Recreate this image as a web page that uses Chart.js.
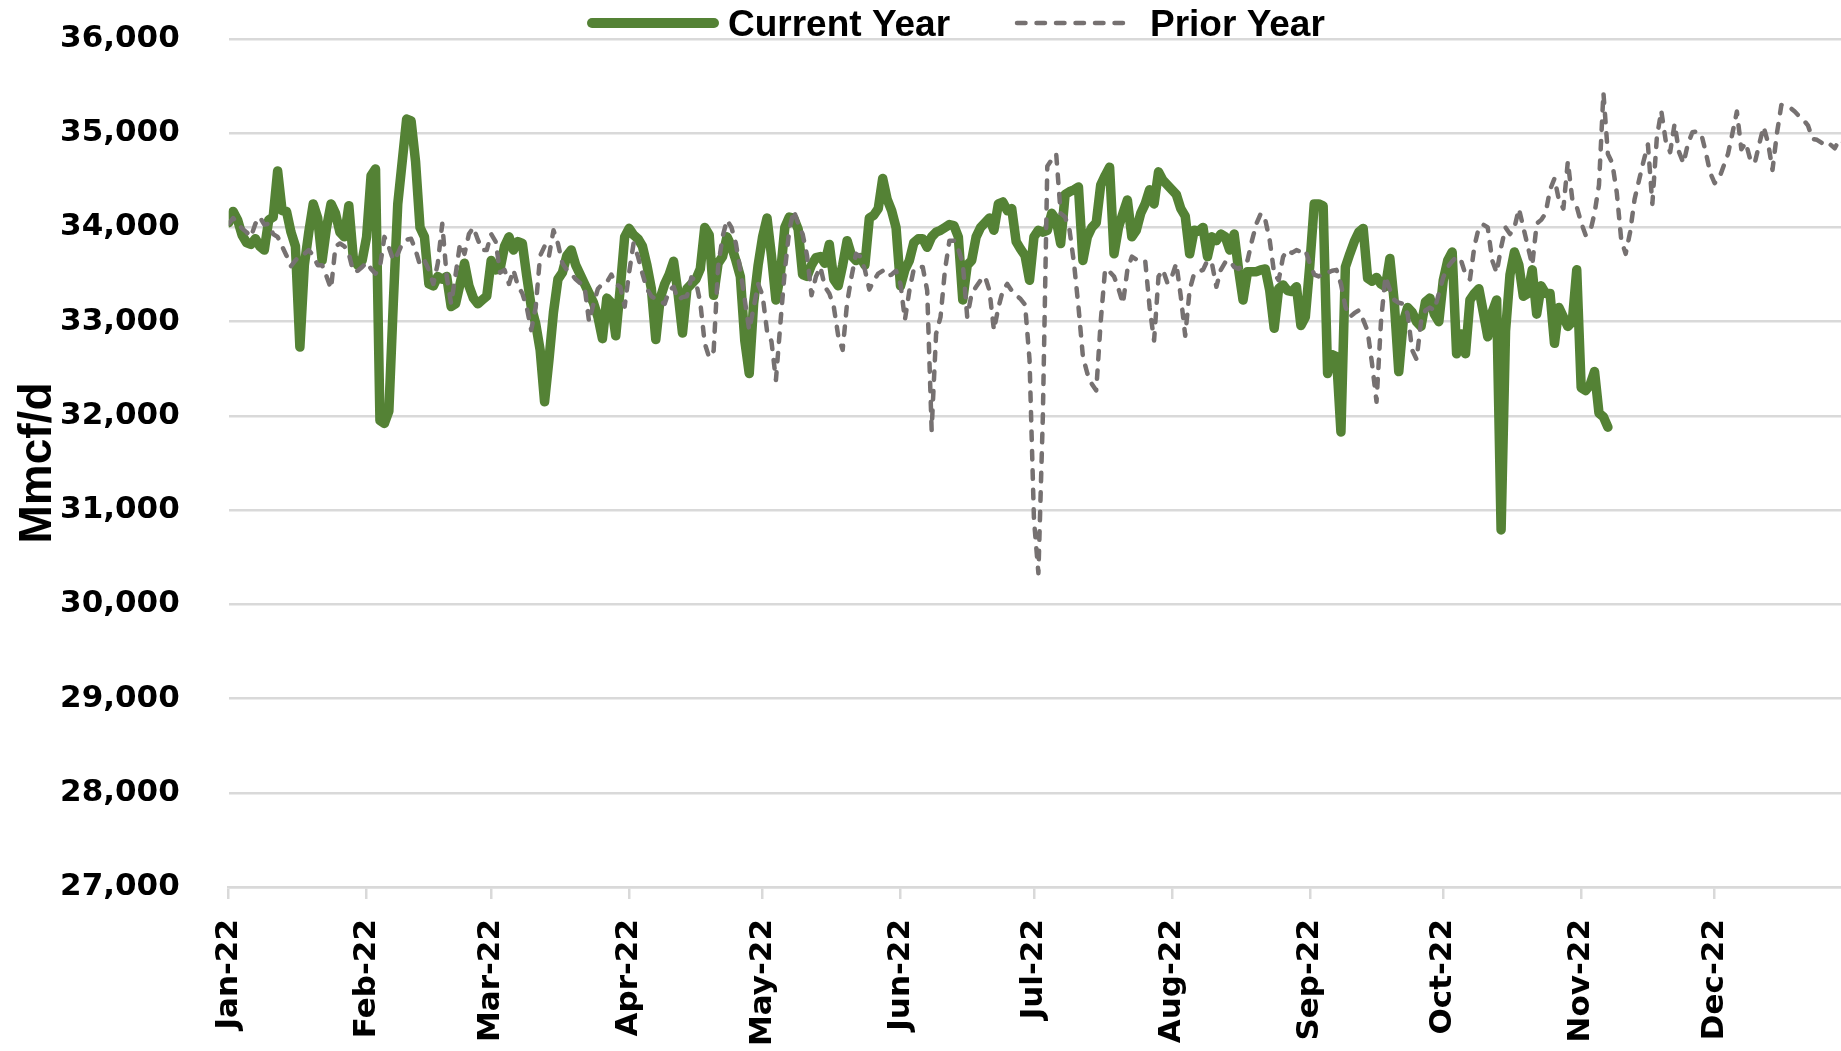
<!DOCTYPE html>
<html>
<head>
<meta charset="utf-8">
<script src="https://cdn.jsdelivr.net/npm/chart.js@4.4.1/dist/chart.umd.min.js"></script>
<style>
html,body{margin:0;padding:0;background:#ffffff;overflow:hidden}
canvas{display:block}
</style>
</head>
<body>
<canvas id="chart" width="1841" height="1051"></canvas>
<script>
// ---------- DATA ----------
const seriesNames = ['Current Year', 'Prior Year'];
const yearStart = [2022, 0, 1];                 // first category = 1 Jan 2022, one value per day
const monthTickLabels = ['Jan-22','Feb-22','Mar-22','Apr-22','May-22','Jun-22','Jul-22','Aug-22','Sep-22','Oct-22','Nov-22','Dec-22'];
const yTickValues = [27000,28000,29000,30000,31000,32000,33000,34000,35000,36000];
const lastVisibleDay = 362.4;                    // right edge of the visible window (late Dec)

// Current Year, Mmcf/d, daily from 1 Jan 2022 to 7 Nov 2022
const currentYear = [
34050,34170,34080,33920,33840,33820,33880,33800,33760,34080,
34110,34600,34180,34170,33950,33800,32730,33600,33950,34250,
34100,33650,34000,34250,34150,33950,33900,34230,33680,33600,
33650,33900,34550,34620,31950,31920,32050,33200,34250,34700,
35150,35130,34700,34000,33900,33400,33380,33480,33450,33480,
33160,33190,33400,33620,33380,33250,33190,33230,33270,33650,
33550,33560,33800,33900,33760,33850,33830,33480,33160,32980,
32700,32150,32600,33100,33450,33520,33700,33760,33600,33500,
33400,33300,33200,33050,32820,33250,33200,32850,33350,33900,
33990,33920,33880,33800,33600,33350,32810,33250,33400,33500,
33640,33300,32880,33350,33400,33450,33560,34000,33920,33280,
33620,33690,33900,33800,33650,33480,32800,32450,33200,33600,
33900,34100,33700,33230,33500,34000,34110,34100,33980,33500,
33480,33600,33680,33690,33620,33820,33450,33380,33600,33860,
33700,33650,33680,33600,34100,34130,34200,34520,34300,34180,
34000,33380,33550,33650,33840,33880,33880,33790,33900,33950,
33970,34000,34030,34020,33900,33230,33600,33650,33900,34000,
34050,34100,33970,34250,34270,34180,34200,33850,33770,33700,
33440,33900,33970,33950,33970,34150,34080,33830,34350,34380,
34400,34430,33650,33900,34000,34050,34450,34550,34640,33720,
34000,34150,34290,33900,33970,34150,34250,34400,34250,34590,
34500,34450,34400,34350,34200,34120,33720,33970,33960,34000,
33690,33900,33860,33930,33900,33760,33930,33550,33230,33530,
33530,33530,33550,33560,33330,32930,33350,33390,33330,33320,
33370,32960,33050,33600,34250,34250,34230,32450,32650,32630,
31830,33580,33720,33850,33950,33990,33460,33430,33470,33400,
33370,33670,33200,32470,33000,33150,33100,33000,32950,33210,
33250,33080,33000,33440,33650,33740,32660,32870,32660,33230,
33300,33350,33100,32840,33100,33230,30790,32900,33500,33740,
33600,33270,33300,33550,33080,33380,33300,33300,32770,33150,
33050,32950,33000,33550,32300,32270,32330,32470,32030,31990,
31880
];

// Prior Year, Mmcf/d, daily (same calendar days, previous year)
const priorYear = [
34040,34100,34040,33990,33950,33900,34040,34110,34030,34040,
33930,33900,33800,33700,33590,33650,33700,33720,33760,33700,
33600,33600,33480,33350,33800,33830,33800,33720,33530,33540,
33580,33630,33560,33510,33580,33900,33790,33650,33720,33830,
33870,33880,33760,33600,33650,33550,33400,33620,34040,33480,
33190,33500,33830,33720,33930,34000,33870,33760,33760,33930,
33850,33520,33550,33400,33550,33380,33300,33150,32910,33150,
33700,33800,33700,33970,33830,33620,33550,33510,33450,33410,
33370,33000,33190,33350,33400,33420,33500,33400,33370,33160,
33520,33830,33690,33510,33350,33270,33240,33220,33190,33330,
33370,33230,33260,33270,33470,33430,33200,32770,32620,32690,
33580,33900,34080,34000,33830,33550,33230,32910,33150,33400,
33280,32900,32790,32380,32980,33540,33970,34180,34040,33930,
33700,33280,33480,33580,33370,33300,33160,32850,32700,33200,
33480,33720,33690,33550,33340,33440,33510,33540,33480,33500,
33540,33400,33020,33330,33560,33580,33580,33330,31850,32870,
33050,33550,33860,33860,33770,33620,33050,33300,33370,33440,
33480,33330,32910,33150,33330,33400,33330,33280,33240,33180,
32600,30900,30330,32000,34650,34720,34780,34150,34110,33970,
33620,33160,32630,32450,32340,32270,33000,33560,33530,33480,
33350,33190,33550,33690,33660,33650,33650,33150,32800,33480,
33550,33410,33480,33620,33270,32850,33340,33510,33530,33550,
33650,33620,33370,33550,33630,33650,33580,33560,33620,33650,
33860,34040,34150,34080,33860,33510,33440,33690,33760,33730,
33760,33740,33760,33620,33500,33480,33510,33520,33540,33550,
33400,33160,33050,33090,33120,33020,32900,32550,32150,33000,
33480,33340,33230,33200,33190,33080,32700,32600,33000,33120,
33150,33120,33300,33470,33580,33640,33690,33650,33500,33450,
33800,34000,34030,34000,33650,33520,33790,34000,33930,34000,
34200,34000,33800,33600,34040,34080,34150,34400,34520,34290,
34200,34700,34300,34220,34050,33920,33950,34150,34450,35430,
34780,34680,34370,33870,33720,33950,34300,34500,34700,34880,
34250,34950,35240,34920,34800,35100,34800,34680,34890,35010,
35020,34990,34800,34580,34470,34520,34650,34780,35000,35230,
34830,34900,34720,34680,34880,35070,34900,34610,35000,35300,
35280,35270,35230,35180,35140,35080,34940,34930,34900,34860,
34880,34840,34930,34900,34880
];

// ---------- DERIVED ----------
const DAY_MS = 86400000;
const t0 = Date.UTC(yearStart[0], yearStart[1], yearStart[2]);
const monthStartDays = monthTickLabels.map((_, m) => (Date.UTC(yearStart[0], m, 1) - t0) / DAY_MS);
const toPoints = arr => arr.map((v, i) => ({ x: i, y: v }));

const GREEN = '#548235';
const GREY = '#767171';
const GRID = '#d9d9d9';
const DASH = [8.5, 11];

// custom top legend (drawn with dataset labels and styles)
const topLegend = {
  id: 'topLegend',
  afterDraw(chart) {
    const ctx = chart.ctx;
    const ds = chart.data.datasets;
    const cy = 23;
    ctx.save();
    ctx.font = 'bold 37px "Liberation Sans", Arial, sans-serif';
    ctx.textBaseline = 'alphabetic';
    ctx.textAlign = 'left';
    ctx.fillStyle = '#000000';
    const items = [
      { d: ds[0], x0: 592, x1: 714, tx: 728 },
      { d: ds[1], x0: 1017, x1: 1132, tx: 1150 }
    ];
    items.forEach(it => {
      ctx.save();
      ctx.strokeStyle = it.d.borderColor;
      ctx.lineWidth = it.d.legendWidth;
      ctx.lineCap = 'round';
      ctx.setLineDash(it.d.borderDash || []);
      ctx.beginPath();
      ctx.moveTo(it.x0, cy);
      ctx.lineTo(it.x1, cy);
      ctx.stroke();
      ctx.restore();
      ctx.fillText(it.d.label, it.tx, 36);
    });
    ctx.restore();
  }
};

new Chart(document.getElementById('chart'), {
  type: 'line',
  data: {
    datasets: [
      {
        label: seriesNames[0],
        data: toPoints(currentYear),
        borderColor: GREEN,
        backgroundColor: GREEN,
        borderWidth: 9.5,
        legendWidth: 10,
        borderJoinStyle: 'round',
        borderCapStyle: 'round',
        pointRadius: 0,
        tension: 0,
        fill: false,
        order: 1
      },
      {
        label: seriesNames[1],
        data: toPoints(priorYear),
        borderColor: GREY,
        backgroundColor: GREY,
        borderWidth: 4.5,
        legendWidth: 4.5,
        borderDash: DASH,
        borderJoinStyle: 'round',
        borderCapStyle: 'round',
        pointRadius: 0,
        tension: 0,
        fill: false,
        order: 0
      }
    ]
  },
  options: {
    responsive: false,
    devicePixelRatio: 1,
    animation: false,
    layout: { padding: { top: 39, right: 0, bottom: 0, left: 0 } },
    plugins: {
      legend: { display: false },
      tooltip: { enabled: false },
      title: { display: false }
    },
    scales: {
      x: {
        type: 'linear',
        position: 'bottom',
        min: 0,
        max: lastVisibleDay,
        afterBuildTicks: axis => { axis.ticks = monthStartDays.map(v => ({ value: v })); },
        afterFit: axis => { axis.height = 164; },
        ticks: {
          autoSkip: false,
          minRotation: 90,
          maxRotation: 90,
          padding: 20,
          color: '#000000',
          font: { family: '"DejaVu Sans", Verdana, sans-serif', weight: 'bold', size: 31 },
          callback: (value, index) => monthTickLabels[index]
        },
        grid: {
          drawOnChartArea: false,
          drawTicks: true,
          tickLength: 12,
          tickWidth: 2.5,
          tickColor: GRID,
          color: GRID,
          lineWidth: 2.5
        },
        border: { display: true, color: GRID, width: 2.5 }
      },
      y: {
        type: 'linear',
        min: yTickValues[0],
        max: yTickValues[yTickValues.length - 1],
        afterBuildTicks: axis => { axis.ticks = yTickValues.map(v => ({ value: v })); },
        afterFit: axis => { axis.width = 228.7; },
        ticks: {
          padding: 0,
          color: '#000000',
          font: { family: '"DejaVu Sans", Verdana, sans-serif', weight: 'bold', size: 31 },
          callback: v => v.toLocaleString('en-US')
        },
        grid: {
          drawTicks: true,
          tickLength: 49,
          tickColor: 'rgba(0,0,0,0)',
          color: GRID,
          lineWidth: 2.5
        },
        border: { display: false },
        title: {
          display: true,
          text: 'Mmcf/d',
          color: '#000000',
          font: { family: '"Liberation Sans", Arial, sans-serif', weight: 'bold', size: 46, lineHeight: 1 },
          padding: { top: 15, bottom: 0 }
        }
      }
    }
  },
  plugins: [topLegend]
});
</script>
</body>
</html>
